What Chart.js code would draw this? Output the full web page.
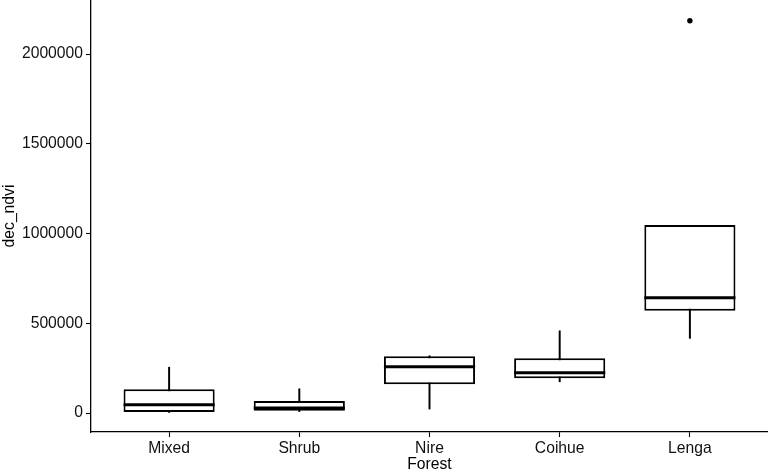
<!DOCTYPE html>
<html>
<head>
<meta charset="utf-8">
<script src="https://cdn.jsdelivr.net/npm/chart.js@4/dist/chart.umd.min.js"></script>
<style>
  html, body { margin: 0; padding: 0; background: #fff; }
  #wrap { width: 768px; height: 473px; }
</style>
</head>
<body>
<div id="wrap"><canvas id="chart"></canvas></div>
<script>
// box plot of dec_ndvi by forest type
var forests = ['Mixed', 'Shrub', 'Nire', 'Coihue', 'Lenga'];
var whiskerLow = [3000, 8000, 22000, 174000, 416000];
var q1 = [5500, 13000, 160000, 193000, 570000];
var medians = [46000, 28000, 258000, 224000, 642000];
var q3 = [132000, 67000, 316000, 305000, 1047000];
var whiskerHigh = [255000, 135000, 319000, 458000, 1040000];
var outlierForest = [4];
var outlierValue = [2185500];
var yTicks = [0, 500000, 1000000, 1500000, 2000000];

var font = { family: '"Liberation Sans", Arial, sans-serif', size: 15.7 };
var titleFont = { family: '"Liberation Sans", Arial, sans-serif', size: 15.7, lineHeight: 1 };

var ranges = function (lo, hi) {
  return forests.map(function (f, i) { return { x: i, y: [lo[i], hi[i]] }; });
};

// half of a box width, in pixels, taken from the x scale
var halfBox = function (ctx) {
  var s = ctx.chart.scales.x;
  if (!s) return 40;
  return Math.abs(s.getPixelForValue(1) - s.getPixelForValue(0)) * 0.35;
};

new Chart(document.getElementById('chart'), {
  type: 'bar',
  data: {
    datasets: [{
      label: 'whiskers',
      data: ranges(whiskerLow, whiskerHigh),
      backgroundColor: '#000',
      borderWidth: 0,
      barThickness: 1.3,
      grouped: false,
      order: 3
    }, {
      label: 'boxes',
      data: ranges(q1, q3),
      backgroundColor: '#fff',
      borderColor: '#000',
      borderWidth: 2,
      borderSkipped: false,
      categoryPercentage: 1,
      barPercentage: 0.7,
      grouped: false,
      order: 2
    }, {
      type: 'line',
      label: 'medians',
      data: forests.map(function (f, i) { return { x: i, y: medians[i] }; }),
      showLine: false,
      pointStyle: 'line',
      pointRadius: halfBox,
      pointBorderWidth: 3,
      pointBorderColor: '#000',
      order: 1
    }, {
      type: 'line',
      label: 'outliers',
      data: outlierForest.map(function (f, i) { return { x: f, y: outlierValue[i] }; }),
      showLine: false,
      pointRadius: 2.7,
      pointBackgroundColor: '#000',
      pointBorderWidth: 0,
      order: 0
    }]
  },
  options: {
    responsive: true,
    maintainAspectRatio: false,
    animation: false,
    events: [],
    layout: { autoPadding: false, padding: 0 },
    plugins: { legend: { display: false }, tooltip: { enabled: false } },
    scales: {
      x: {
        type: 'linear',
        offset: false,
        min: -0.6,
        max: 4.6,
        afterBuildTicks: function (axis) {
          axis.ticks = forests.map(function (f, i) { return { value: i }; });
        },
        afterFit: function (axis) {
          axis.height = 41;
          axis.paddingLeft = 0;
          axis.paddingRight = 0;
        },
        ticks: {
          color: '#111',
          font: font,
          padding: 2,
          callback: function (v) { return forests[v]; }
        },
        grid: { offset: false, drawOnChartArea: false, tickLength: 5, color: '#000', tickWidth: 1.1 },
        border: { display: true, color: '#000', width: 1.3 },
        title: { display: true, text: 'Forest', color: '#000', font: titleFont, padding: 0 }
      },
      y: {
        min: -105800,
        max: 2300900,
        afterBuildTicks: function (axis) {
          axis.ticks = yTicks.map(function (v) { return { value: v }; });
        },
        afterFit: function (axis) {
          axis.width = 91;
          axis.paddingTop = 0;
          axis.paddingBottom = 0;
        },
        ticks: {
          color: '#111',
          font: font,
          padding: 3,
          callback: function (v) { return String(v); }
        },
        grid: { drawOnChartArea: false, tickLength: 5, color: '#000', tickWidth: 1.1 },
        border: { display: true, color: '#000', width: 1.3 },
        title: { display: true, text: 'dec_ndvi', color: '#000', font: font, padding: 0 }
      }
    }
  }
});
</script>
</body>
</html>
